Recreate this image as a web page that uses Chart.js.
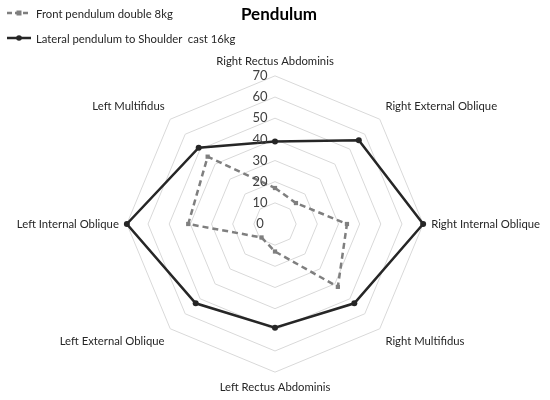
<!DOCTYPE html>
<html>
<head>
<meta charset="utf-8">
<script src="https://cdn.jsdelivr.net/npm/chart.js@4.4.1/dist/chart.umd.min.js"></script>
<style>
  html, body { margin: 0; padding: 0; background: #fff; }
  #wrap { position: relative; width: 550px; height: 400px; }
  #legend { position: absolute; left: 6px; top: 4px; font-family: Lato, 'Open Sans', sans-serif; font-size: 11.3px; color: #262626; }
  .item { display: flex; align-items: center; height: 18px; margin-bottom: 7px; }
  .item svg { margin-right: 4px; }
</style>
</head>
<body>
<div id="wrap">
  <canvas id="radarChart" width="550" height="400"></canvas>
  <div id="legend"></div>
</div>
<script>
const muscles = [
    'Right Rectus Abdominis', 'Right External Oblique', 'Right Internal Oblique', 'Right Multifidus',
    'Left Rectus Abdominis', 'Left External Oblique', 'Left Internal Oblique', 'Left Multifidus'
];
const frontPendulum = [17, 14, 34, 42, 13, 9, 41, 45];
const lateralPendulum = [39, 56, 70, 53, 49, 53, 70, 51];
const tickValues = [0, 10, 20, 30, 40, 50, 60, 70];

const seriesNames = ['Front pendulum double 8kg', 'Lateral pendulum to Shoulder  cast 16kg'];

// legend built by hand so the two entries stack like the original
function buildLegend() {
    const legend = document.getElementById('legend');
    const samples = [
        '<svg width="26" height="8"><line x1="1" y1="4" x2="25" y2="4" stroke="#7f7f7f" stroke-width="2.5" stroke-dasharray="5,3"/><rect x="10.5" y="1.5" width="5" height="5" fill="#7f7f7f"/></svg>',
        '<svg width="26" height="8"><line x1="1" y1="4" x2="25" y2="4" stroke="#262626" stroke-width="2.5"/><circle cx="13" cy="4" r="2.8" fill="#262626"/></svg>'
    ];
    seriesNames.forEach((name, i) => {
        const div = document.createElement('div');
        div.className = 'item';
        div.innerHTML = samples[i] + '<span>' + name.replace(/ /g, '&nbsp;') + '</span>';
        legend.appendChild(div);
    });
}
buildLegend();

// ticks sit a little left of the vertical axis in the original
const tickLabelPlugin = {
    id: 'tickLabels',
    afterDatasetsDraw(chart) {
        const scale = chart.scales.r;
        const ctx = chart.ctx;
        ctx.save();
        ctx.font = '13px Lato, "Open Sans", sans-serif';
        ctx.fillStyle = '#404040';
        ctx.textAlign = 'center';
        ctx.textBaseline = 'middle';
        tickValues.forEach(v => {
            const d = scale.getDistanceFromCenterForValue(v);
            ctx.fillText(String(v), scale.xCenter - 15, scale.yCenter - d);
        });
        ctx.restore();
    }
};

new Chart(document.getElementById('radarChart'), {
    type: 'radar',
    data: {
        labels: muscles,
        datasets: [{
            label: seriesNames[0],
            data: frontPendulum,
            borderColor: '#7f7f7f',
            backgroundColor: '#7f7f7f',
            borderWidth: 2.5,
            borderDash: [6, 4],
            pointStyle: 'rect',
            pointRadius: 3,
            pointBorderWidth: 0,
            fill: false
        }, {
            label: seriesNames[1],
            data: lateralPendulum,
            borderColor: '#262626',
            backgroundColor: '#262626',
            borderWidth: 2.5,
            pointStyle: 'circle',
            pointRadius: 3,
            pointBorderWidth: 0,
            fill: false
        }]
    },
    options: {
        responsive: false,
        animation: false,
        layout: { padding: { top: 0, bottom: 0, left: 14, right: 6 } },
        plugins: {
            legend: { display: false },
            tooltip: { enabled: false },
            title: {
                display: true,
                text: 'Pendulum',
                color: '#000',
                font: { family: 'Lato, "Open Sans", sans-serif', size: 17, weight: 'bold' },
                padding: { top: 4, bottom: 25 }
            }
        },
        scales: {
            r: {
                min: 0,
                max: 70,
                ticks: { stepSize: 10, display: false },
                angleLines: { display: false },
                grid: { color: '#d9d9d9', lineWidth: 1 },
                pointLabels: {
                    color: '#262626',
                    font: { family: 'Lato, "Open Sans", sans-serif', size: 11.3 },
                    padding: 8
                }
            }
        }
    },
    plugins: [tickLabelPlugin]
});
</script>
</body>
</html>
